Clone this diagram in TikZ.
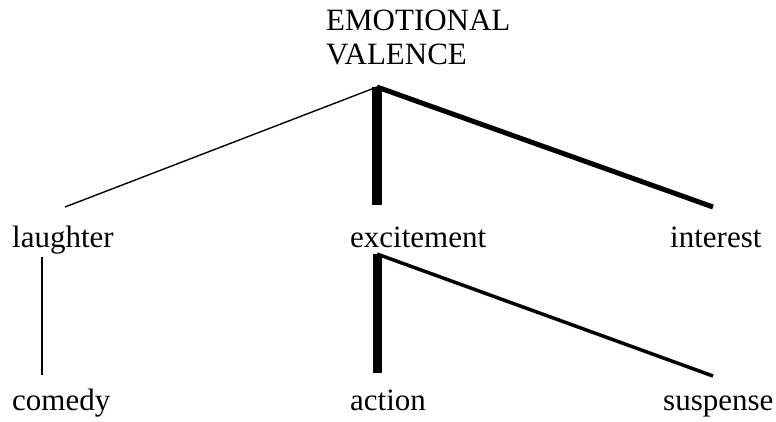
\documentclass[tikz,border=0pt]{standalone}
\usepackage{fontspec}
\setmainfont{Liberation Serif}
\begin{document}
\begin{tikzpicture}[x=1pt,y=-1pt,
  lbl/.style={anchor=base west,inner sep=0pt,font=\fontsize{31}{34}\selectfont},
  thinln/.style={line width=1.4pt},
  heavyln/.style={line width=10pt},
  midln/.style={line width=5pt},
  lowln/.style={line width=3.5pt}]
\useasboundingbox (0,0) rectangle (776,421);
% labels
\node[lbl] (emo) at (326,30) {EMOTIONAL};
\node[lbl] (val) at (326,64) {VALENCE};
\node[lbl] (laughter) at (12,247) {laughter};
\node[lbl] (excitement) at (350,247) {excitement};
\node[lbl] (interest) at (670,247) {interest};
\node[lbl] (comedy) at (12,410) {comedy};
\node[lbl] (action) at (350,410) {action};
\node[lbl] (suspense) at (663,410) {suspense};
% junction and end coordinates
\coordinate (apex) at (377,87);
\coordinate (laughterTop) at (65,207);
\coordinate (excitementTop) at (377,205);
\coordinate (interestTop) at (713,207);
\coordinate (excitementBot) at (377,254);
\coordinate (laughterBot) at (42,257);
\coordinate (comedyTop) at (42,375);
\coordinate (actionTop) at (377,373);
\coordinate (suspenseTop) at (713,376);
% connectors
\draw[thinln] (apex) -- (laughterTop);
\draw[heavyln] (apex) -- (excitementTop);
\draw[midln] (apex) -- (interestTop);
\draw[thinln] (laughterBot) -- (comedyTop);
\draw[heavyln,line width=9pt] (excitementBot) -- (actionTop);
\draw[lowln] (excitementBot) -- (suspenseTop);
\end{tikzpicture}
\end{document}
